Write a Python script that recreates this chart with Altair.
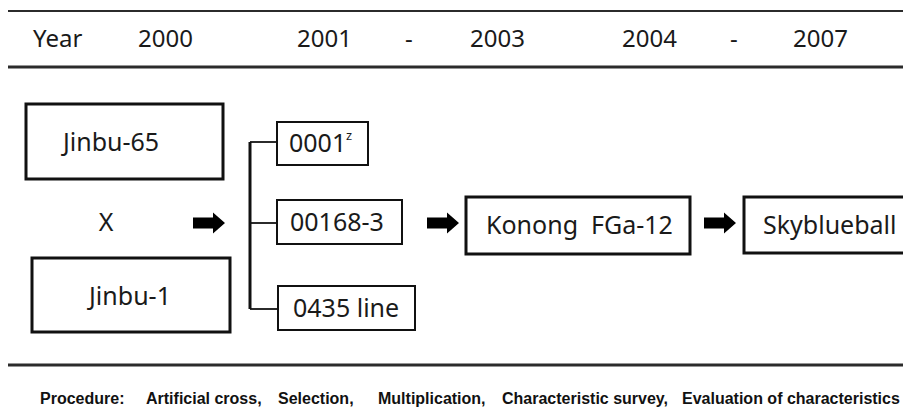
import altair as alt
import pandas as pd

# ---- text content ----
year_labels = ["Year", "2000", "2001", "-", "2003", "2004", "-", "2007"]
parent_labels = ["Jinbu-65", "Jinbu-1"]
cross_label = ["X"]
line_labels = ["0001", "00168-3", "0435 line"]
superscript_labels = ["z"]
stage_labels = ["Konong\u00a0 FGa-12", "Skyblueball"]
procedure_labels = ["Procedure:", "Artificial cross,", "Selection,",
                    "Multiplication,", "Characteristic survey,",
                    "Evaluation of characteristics"]

# ---- layout (diagram coordinates) ----
year_x = [33, 138, 297, 405, 470, 622, 730, 793]
year_y = [40] * 8

parent_box_x = [26, 32]
parent_box_x2 = [223, 230]
parent_box_y = [104, 258]
parent_box_y2 = [179, 332]
parent_text_x = [111, 130]
parent_text_y = [143, 297]

cross_x = [106]
cross_y = [223]

line_box_x = [277, 277, 278]
line_box_x2 = [368, 402, 415]
line_box_y = [122, 200, 286]
line_box_y2 = [165, 244, 330]
line_text_x = [289, 290, 293]
line_text_y = [144, 223, 309]
sup_x = [346]
sup_y = [136]

stage_box_x = [466, 744]
stage_box_x2 = [690, 912]
stage_box_y = [197, 197]
stage_box_y2 = [254, 253]
stage_text_x = [486, 763]
stage_text_y = [226, 226]

arrow_x = [209, 443, 720]
arrow_y = [223, 223, 223]

hline_x = [8, 8, 8, 250, 250, 250]
hline_x2 = [903, 903, 903, 277, 277, 277]
hline_y = [11, 67, 365, 142, 223, 309]
hline_w = [2, 3, 3, 2, 2, 2]
vline_x = [250]
vline_y = [142]
vline_y2 = [309]

proc_x = [40, 146, 278, 378, 502, 682]
proc_y = [399] * 6

X = alt.Scale(domain=[8, 903], nice=False, zero=False)
Y = alt.Scale(domain=[8, 408], nice=False, zero=False, reverse=True)

def xe(f):
    return alt.X(f, type="quantitative", scale=X, axis=None)

def ye(f):
    return alt.Y(f, type="quantitative", scale=Y, axis=None)

FONT = "Noto Sans"
INK = "#1a1a1a"

years = alt.Chart(pd.DataFrame({"t": year_labels, "x": year_x, "y": year_y})).mark_text(
    font=FONT, fontSize=24, align="left", baseline="middle", color=INK
).encode(x=xe("x"), y=ye("y"), text="t:N")

hlines = alt.Chart(pd.DataFrame({"x": hline_x, "x2": hline_x2, "y": hline_y, "w": hline_w})).mark_rule(
    color="#2b2b2b"
).encode(x=xe("x"), x2="x2:Q", y=ye("y"), y2="y:Q",
         strokeWidth=alt.StrokeWidth("w:Q", scale=None, legend=None))

vlines = alt.Chart(pd.DataFrame({"x": vline_x, "y": vline_y, "y2": vline_y2})).mark_rule(
    color="#111111", strokeWidth=3
).encode(x=xe("x"), y=ye("y"), y2="y2:Q")

parent_boxes = alt.Chart(pd.DataFrame({"x": parent_box_x, "x2": parent_box_x2,
                                       "y": parent_box_y, "y2": parent_box_y2})).mark_rect(
    fill="white", stroke="#111111", strokeWidth=3
).encode(x=xe("x"), x2="x2:Q", y=ye("y"), y2="y2:Q")

line_boxes = alt.Chart(pd.DataFrame({"x": line_box_x, "x2": line_box_x2,
                                     "y": line_box_y, "y2": line_box_y2})).mark_rect(
    fill="white", stroke="#111111", strokeWidth=2
).encode(x=xe("x"), x2="x2:Q", y=ye("y"), y2="y2:Q")

stage_boxes = alt.Chart(pd.DataFrame({"x": stage_box_x, "x2": stage_box_x2,
                                      "y": stage_box_y, "y2": stage_box_y2})).mark_rect(
    fill="white", stroke="#111111", strokeWidth=3
).encode(x=xe("x"), x2="x2:Q", y=ye("y"), y2="y2:Q")

parent_text = alt.Chart(pd.DataFrame({"t": parent_labels, "x": parent_text_x, "y": parent_text_y})).mark_text(
    font=FONT, fontSize=25, align="center", baseline="middle", color=INK
).encode(x=xe("x"), y=ye("y"), text="t:N")

cross_text = alt.Chart(pd.DataFrame({"t": cross_label, "x": cross_x, "y": cross_y})).mark_text(
    font=FONT, fontSize=25, align="center", baseline="middle", color=INK
).encode(x=xe("x"), y=ye("y"), text="t:N")

line_text = alt.Chart(pd.DataFrame({"t": line_labels, "x": line_text_x, "y": line_text_y})).mark_text(
    font=FONT, fontSize=25, align="left", baseline="middle", color=INK
).encode(x=xe("x"), y=ye("y"), text="t:N")

sup_text = alt.Chart(pd.DataFrame({"t": superscript_labels, "x": sup_x, "y": sup_y})).mark_text(
    font=FONT, fontSize=13, align="left", baseline="middle", color=INK
).encode(x=xe("x"), y=ye("y"), text="t:N")

stage_text = alt.Chart(pd.DataFrame({"t": stage_labels, "x": stage_text_x, "y": stage_text_y})).mark_text(
    font=FONT, fontSize=25, align="left", baseline="middle", color=INK
).encode(x=xe("x"), y=ye("y"), text="t:N")

ARROW = "M-1,-0.34 L0.25,-0.34 L0.25,-0.66 L1,0 L0.25,0.66 L0.25,0.34 L-1,0.34 Z"
arrows = alt.Chart(pd.DataFrame({"x": arrow_x, "y": arrow_y})).mark_point(
    shape=ARROW, filled=True, fill="black", size=1024, opacity=1, strokeWidth=0
).encode(x=xe("x"), y=ye("y"))

procedure = alt.Chart(pd.DataFrame({"t": procedure_labels, "x": proc_x, "y": proc_y})).mark_text(
    font="Liberation Sans", fontSize=16, fontWeight="bold", align="left",
    baseline="middle", color="#111111"
).encode(x=xe("x"), y=ye("y"), text="t:N")

chart = alt.layer(
    hlines, vlines, parent_boxes, line_boxes, stage_boxes,
    years, parent_text, cross_text, line_text, sup_text, stage_text,
    arrows, procedure
).properties(
    width=895, height=400, padding=0, autosize=alt.AutoSizeParams(type="none"),
    background="white"
).configure_view(stroke=None)

chart.save("out.html", embed_options={"renderer": "svg", "actions": False})
